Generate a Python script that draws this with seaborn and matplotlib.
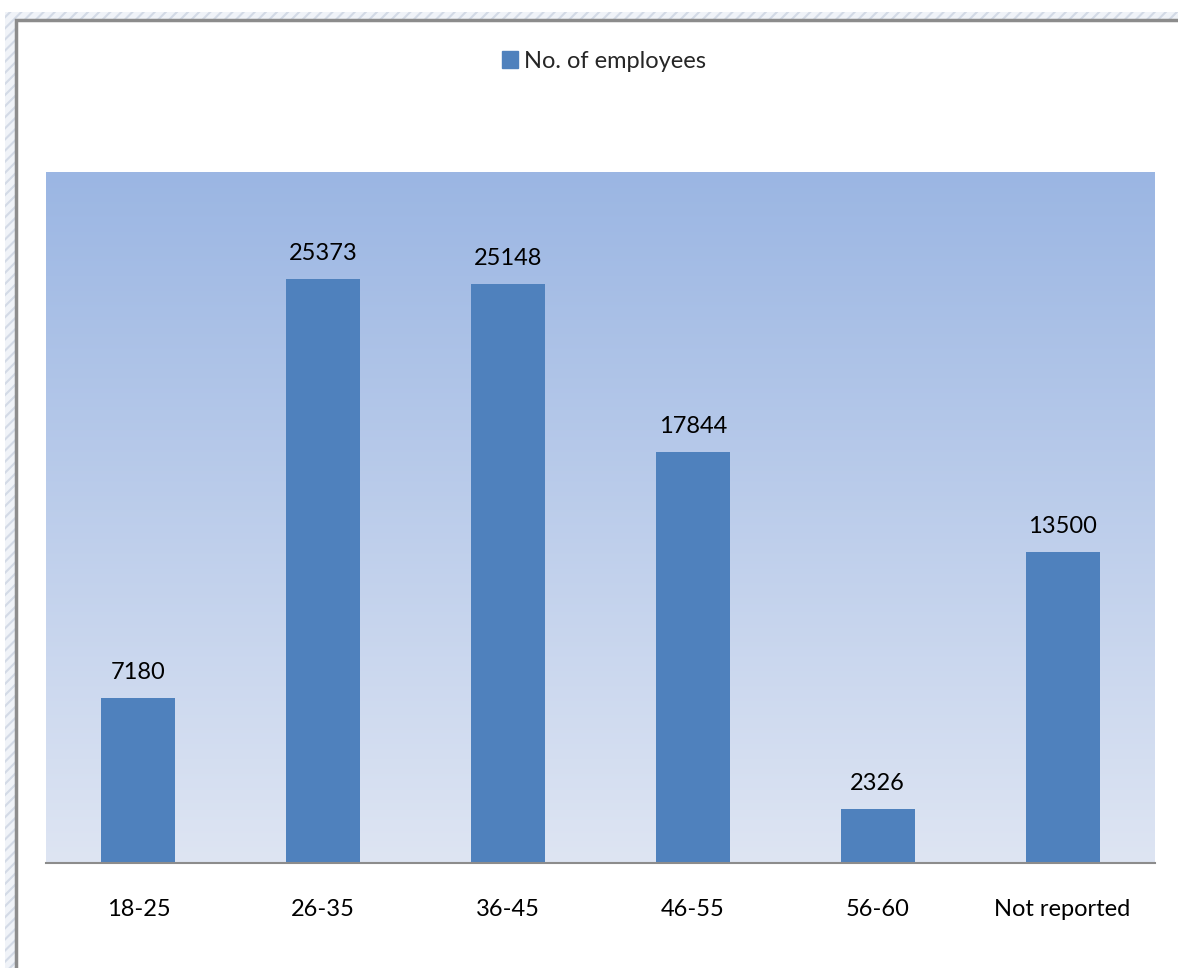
import numpy as np
import pandas as pd
import matplotlib.pyplot as plt
import matplotlib.patches as mpatches
import seaborn as sns

# data
age_groups = ["18-25", "26-35", "36-45", "46-55", "56-60", "Not reported"]
employees = [7180, 25373, 25148, 17844, 2326, 13500]

df = pd.DataFrame({"age": age_groups, "count": employees})

sns.set_theme(style="white")
plt.rcParams['font.family'] = ['Lato', 'DejaVu Sans']
plt.rcParams['hatch.color'] = "#d3dae6"
plt.rcParams['hatch.linewidth'] = 1.5

W, H = 1178, 968
fig = plt.figure(figsize=(W / 100, H / 100), dpi=100)

# hatched frame around the chart
frame = fig.add_axes([0, 0, 1, 1])
frame.set_xlim(0, W)
frame.set_ylim(H, 0)
frame.axis("off")
frame.add_patch(mpatches.Rectangle((5, 12), W, H, facecolor="#f0f3f8",
                                   edgecolor="#d3dae6", linewidth=0,
                                   hatch="///"))
frame.add_patch(mpatches.Rectangle((16, 20), W, H, facecolor="white",
                                   edgecolor="#8c8c8c", linewidth=2.5))

# plot area
x0, x1, y0, y1 = 46, 1155, 172, 863
ax = fig.add_axes([x0 / W, 1 - y1 / H, (x1 - x0) / W, (y1 - y0) / H])

ymax = 30000
grad = np.linspace(0, 1, 256).reshape(-1, 1)
top = np.array([155, 182, 227]) / 255
bot = np.array([222, 229, 243]) / 255
img = top + (bot - top) * grad[:, :, None]
ax.imshow(img, extent=(-0.5, 5.5, 0, ymax), aspect="auto", zorder=0)

sns.barplot(data=df, x="age", y="count", color="#4f81bd", saturation=1,
            width=0.4, linewidth=0, ax=ax, zorder=2)
ax.set_xlim(-0.5, 5.5)
ax.set_ylim(0, ymax)

for i, v in enumerate(employees):
    ax.text(i, v + 650, str(v), ha="center", va="bottom", fontsize=17,
            color="black")

for s in ["top", "right", "left"]:
    ax.spines[s].set_visible(False)
ax.spines["bottom"].set_color("#8c8c8c")
ax.spines["bottom"].set_linewidth(1.5)
ax.set_yticks([])
ax.set_xlabel("")
ax.set_ylabel("")
ax.tick_params(axis="x", length=0, labelsize=17, pad=26, colors="black")

# legend
handle = mpatches.Patch(color="#4f81bd", label="No. of employees")
fig.legend(handles=[handle], loc="center", bbox_to_anchor=(604 / W, 1 - 61 / H),
           frameon=False, fontsize=17, handlelength=0.7, handleheight=0.7,
           handletextpad=0.25)

fig.savefig("out.png", dpi=100)
